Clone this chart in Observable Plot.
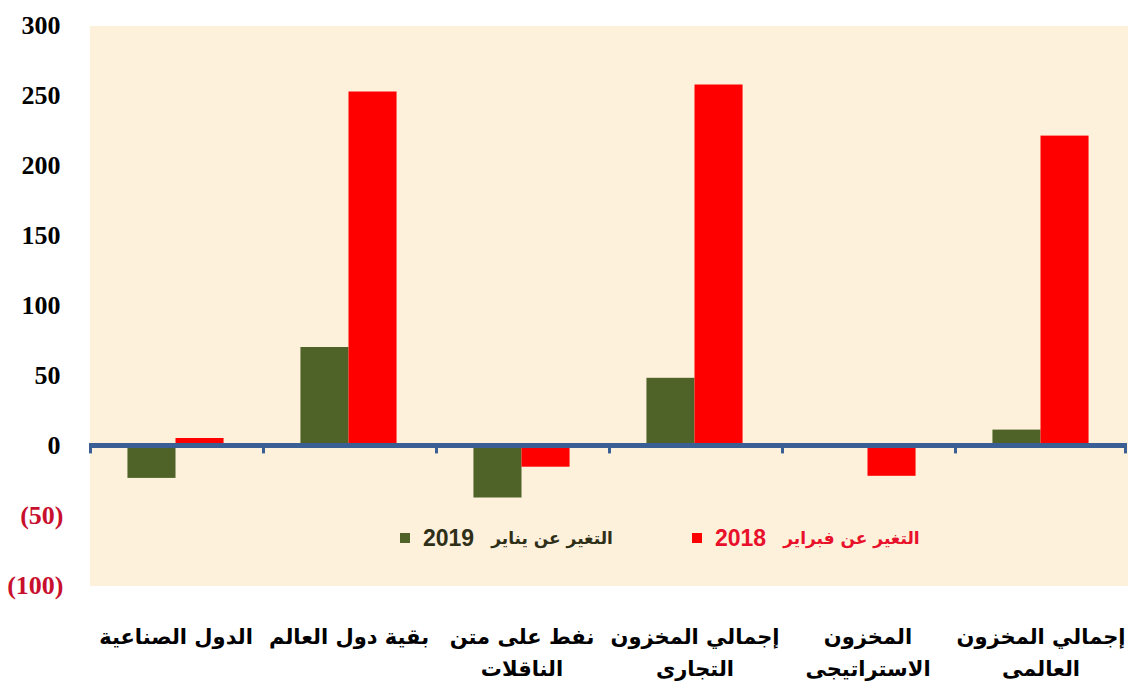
<!DOCTYPE html>
<html><head><meta charset="utf-8">
<script src="https://cdn.jsdelivr.net/npm/d3@7"></script>
<script src="https://cdn.jsdelivr.net/npm/@observablehq/plot@0.6"></script>
<style>
body{margin:0;background:#fff;}
#wrap{position:relative;width:1130px;height:685px;}
.leg{position:absolute;top:524px;height:28px;display:flex;align-items:center;font-weight:bold;white-space:nowrap;}
.leg .sq{width:10px;height:10px;display:inline-block;}
.leg .num{font-family:"Liberation Sans",Arial,sans-serif;font-size:23px;margin-left:13px;}
.leg .ar{font-family:"DejaVu Sans",sans-serif;font-size:17px;margin-left:17px;}
</style></head><body><div id="wrap"></div>
<script>
const categories = ["الدول الصناعية", "بقية دول العالم", "نفط على متن\nالناقلات", "إجمالي المخزون\nالتجارى", "المخزون\nالاستراتيجى", "إجمالي المخزون\nالعالمى"];
const seriesNames = ["التغير عن يناير 2019", "التغير عن فبراير 2018"];
const seriesYears = ["2019", "2018"];
const seriesWords = ["التغير عن يناير", "التغير عن فبراير"];
const changeJan2019 = [-23.5, 70, -37.5, 48, 0, 11];
const changeFeb2018 = [5, 252.5, -15.5, 257.5, -22, 221];
const yTicks = [-100, -50, 0, 50, 100, 150, 200, 250, 300];
const seriesColors = ["#4f6228", "#ff0000"];
const legendTextColors = ["#2f2f18", "#e8102a"];

const table = categories.flatMap((c, i) => [
  {cat: c, series: seriesNames[0], value: changeJan2019[i]},
  {cat: c, series: seriesNames[1], value: changeFeb2018[i]}
]);

const W = 1130, H = 685, mL = 89, mR = 3, mT = 25, mB = 100;
const fw = (W - mL - mR) / categories.length;
const axisBlue = "#3a5f95";
const fmt = d => d < 0 ? `(${-d})` : `${d}`;

const chart = Plot.plot({
  width: W, height: H,
  marginLeft: mL, marginRight: mR, marginTop: mT, marginBottom: mB,
  style: {background: "transparent", overflow: "visible"},
  fx: {domain: categories, padding: 0, axis: null, round: false, label: null},
  x: {domain: seriesNames, paddingInner: 0, paddingOuter: 0.8, axis: null, round: false, label: null},
  y: {domain: [-100, 300], axis: null},
  color: {domain: seriesNames, range: seriesColors},
  marks: [
    Plot.frame({fill: "#fdf1dc", stroke: "none", shapeRendering: "crispEdges"}),
    Plot.barY(table, {fx: "cat", x: "series", y: "value", fill: "series"}),
    Plot.ruleY([0], {stroke: axisBlue, strokeWidth: 5, shapeRendering: "crispEdges"}),
    Plot.rect(categories, {fx: d => d, y1: 0, y2: -6, fill: axisBlue, insetRight: fw - 3}),
    Plot.rect([categories[categories.length - 1]], {fx: d => d, y1: 0, y2: -6, fill: axisBlue, insetLeft: fw - 3}),
    Plot.text(yTicks.filter(d => d >= 0), {fx: () => categories[0], y: d => d, text: fmt, frameAnchor: "left", dx: -29, textAnchor: "end", fill: "#000", fontFamily: "Liberation Serif", fontWeight: "bold", fontSize: 26}),
    Plot.text(yTicks.filter(d => d < 0), {fx: () => categories[0], y: d => d, text: fmt, frameAnchor: "left", dx: -26, textAnchor: "end", fill: "#c8102e", fontFamily: "Liberation Serif", fontWeight: "bold", fontSize: 26}),
    Plot.text(categories, {fx: d => d, text: d => d, frameAnchor: "bottom", lineAnchor: "top", dy: 35, fontSize: 21, fontWeight: "bold", lineHeight: 1.55, fill: "#000", fontFamily: "DejaVu Sans"})
  ]
});

const wrap = document.getElementById("wrap");
wrap.appendChild(chart);

const legendLefts = [400, 692];
seriesNames.forEach((s, i) => {
  const d = document.createElement("div");
  d.className = "leg";
  d.style.left = legendLefts[i] + "px";
  d.style.color = legendTextColors[i];
  d.innerHTML = `<span class="sq" style="background:${seriesColors[i]}"></span><span class="num">${seriesYears[i]}</span><span class="ar" dir="rtl">${seriesWords[i]}</span>`;
  wrap.appendChild(d);
});
</script>
</body></html>
